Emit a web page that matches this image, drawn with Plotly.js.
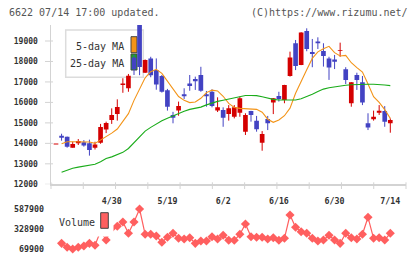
<!DOCTYPE html>
<html>
<head>
<meta charset="utf-8">
<script src="https://cdn.plot.ly/plotly-3.0.1.min.js"></script>
<style>
  html, body { margin: 0; padding: 0; background: #fff; }
  #chart { width: 420px; height: 259px; }
</style>
</head>
<body>
<div id="chart"></div>
<script>
// Daily candles for 6622, one entry per trading session (index 0 .. 60)
const dateTickIndex = [10, 20, 30, 40, 50, 60];
const dateTickLabels = ['4/30', '5/19', '6/2', '6/16', '6/30', '7/14'];

const openPrice = [
  13950, 14280, 13840, 13970, 14110, 13890, 13680, 13950, 14800, 15000,
  15390, 15780, 16920, 17300, 17620, 17730, 18070, 17330, 16880, 16520,
  15790, 15250, 15820, 16300, 16800, 17030, 16570, 16300, 15830, 15760,
  15250, 15710, 15760, 16200, 15380, 15390, 14690, 14460, 14980, 16200,
  16170, 16850, 18200, 17780, 19420, 18610, 18360, 18890, 18270, 17700,
  17990, 18560, 17100, 16980, 17100, 15990, 14770, 15300, 15590, 15060,
  15140
];
const highPrice = [
  13950, 14470, 14330, 14080, 14210, 14160, 14180, 14080, 14950, 15060,
  15710, 16150, 17180, 17390, 18320, 19800, 18100, 18230, 18150, 17340,
  16660, 15540, 16040, 16690, 17340, 17260, 17740, 16560, 16640, 16250,
  15760, 15870, 15870, 16280, 15470, 15590, 15340, 14600, 15340, 16210,
  16520, 16860, 18480, 19050, 19430, 19620, 19100, 19180, 18890, 18230,
  18320, 18920, 17720, 16990, 17450, 17290, 15470, 15600, 15870, 15820,
  15220
];
const lowPrice = [
  13950, 14130, 13790, 13790, 13920, 13840, 13400, 13700, 13980, 14500,
  14950, 15110, 16470, 16520, 17340, 17330, 17440, 17230, 16620, 16480,
  15600, 14980, 15350, 16170, 16570, 16610, 16520, 15790, 15760, 15530,
  14810, 15110, 15220, 15300, 14410, 15060, 14570, 13640, 14650, 15430,
  16040, 15960, 17260, 17580, 17820, 18500, 17720, 18610, 17750, 17100,
  17630, 18230, 16900, 15790, 16610, 15870, 14650, 15110, 15390, 14810,
  14520
];
const closePrice = [
  13950, 14370, 14320, 13790, 14010, 14050, 14000, 13790, 14030, 14680,
  15140, 15430, 16850, 16690, 18200, 19800, 17450, 18150, 17580, 17290,
  16600, 15380, 15600, 16400, 16930, 17150, 17340, 16400, 16520, 15600,
  15630, 15440, 15300, 15500, 14570, 15580, 15100, 14030, 15190, 15990,
  16310, 16120, 17290, 18890, 17830, 19490, 18460, 18980, 18510, 18150,
  18100, 18520, 17620, 15960, 17340, 16980, 14980, 15180, 15500, 15580,
  14980
];

const ma5 = [
  null, 13980, 14080, 14080, 14080, 14080, 14070, 14000, 14160, 14330,
  14500, 14700, 15050, 15450, 16100, 16650, 17200, 17500, 17620, 17420,
  17040, 16630, 16290, 16100, 15990, 16020, 16200, 16480, 16600, 16560,
  16300, 15950, 15750, 15710, 15700, 15660, 15660, 15520, 15180, 15030,
  15140, 15350, 15720, 16450, 17050, 17600, 18150, 18470, 18620, 18740,
  18430, 18270, 18300, 17940, 17700, 17480, 16900, 16280, 16000, 15650,
  15220
];
const ma25 = [
  null, 12590, 12690, 12780, 12840, 12880, 12930, 12980, 13100, 13260,
  13340, 13450, 13560, 13750, 14050, 14320, 14600, 14780, 14950, 15100,
  15230, 15350, 15470, 15570, 15660, 15720, 15770, 15880, 15970, 16050,
  16110, 16170, 16240, 16310, 16340, 16340, 16330, 16280, 16200, 16150,
  16120, 16120, 16120, 16120, 16180, 16280, 16400, 16530, 16650, 16720,
  16770, 16800, 16840, 16860, 16880, 16885, 16885, 16885, 16880, 16850,
  16820
];
const volume = [
  null, 143300, 91900, 69900, 91900, 108700, 143300, 117500, 300000, 186500,
  340000, 363900, 419500, 273200, 419500, 587900, 260300, 260300, 238200, 156700,
  221400, 273200, 208400, 199400, 216200, 143300, 173500, 173500, 229200, 199400,
  247300, 182600, 182600, 260300, 393600, 229200, 221400, 221400, 199400, 216200,
  182600, 208400, 510200, 350900, 294000, 273200, 208400, 173500, 186400, 247300,
  186400, 143300, 273200, 216200, 199400, 260300, 480400, 208400, 216200, 186400,
  273200
];

const priceTicks = [12000, 13000, 14000, 15000, 16000, 17000, 18000, 19000];
const volumeTicks = [69900, 328900, 587900];

const UP = '#4343c3';
const DOWN = '#d40000';
const MONO = 'DejaVu Sans Mono, monospace';

const idx = closePrice.map((_, i) => i);
const isUp = closePrice.map((c, i) => c > openPrice[i]);

// candle bodies as floating bars
const bodyBase = idx.map(i => Math.min(openPrice[i], closePrice[i]));
const bodyHeight = idx.map(i => Math.max(Math.abs(closePrice[i] - openPrice[i]), 45));
const bodyColor = isUp.map(u => (u ? UP : DOWN));

// high-low wicks, one polyline per colour with gaps between sessions
function wicks(up) {
  const xs = [], ys = [];
  idx.forEach(i => {
    if (isUp[i] !== up) return;
    xs.push(i, i, null);
    ys.push(lowPrice[i], highPrice[i], null);
  });
  return { x: xs, y: ys };
}
const upWick = wicks(true);
const downWick = wicks(false);

const traces = [
  { type: 'scatter', mode: 'lines', x: upWick.x, y: upWick.y,
    line: { color: UP, width: 1 }, hoverinfo: 'skip', showlegend: false },
  { type: 'scatter', mode: 'lines', x: downWick.x, y: downWick.y,
    line: { color: DOWN, width: 1 }, hoverinfo: 'skip', showlegend: false },
  { type: 'bar', x: idx, y: bodyHeight, base: bodyBase, width: 0.84,
    marker: { color: bodyColor, line: { width: 0 } }, hoverinfo: 'skip', showlegend: false },
  { type: 'scatter', mode: 'lines', x: idx, y: ma5, name: '5-day MA',
    line: { color: '#f39418', width: 1.1 }, hoverinfo: 'skip', showlegend: false },
  { type: 'scatter', mode: 'lines', x: idx, y: ma25, name: '25-day MA',
    line: { color: '#1aac1a', width: 1.1 }, hoverinfo: 'skip', showlegend: false },
  { type: 'scatter', mode: 'lines+markers', x: idx, y: volume, yaxis: 'y2', name: 'Volume',
    line: { color: '#ff5f5f', width: 1.2 },
    marker: { symbol: 'diamond', size: 7, color: '#ff5f5f' },
    cliponaxis: false, hoverinfo: 'skip', showlegend: false }
];

// plot-area helpers (plot area is 355 x 224 px, top-left at 51,25)
const PX = px => (px - 51) / 355;
const PY = py => (249 - py) / 224;

const shapes = [];
// legend frame and swatches for the moving averages (beneath the candles)
shapes.push({ type: 'rect', xref: 'paper', yref: 'paper', layer: 'below',
  x0: PX(65.7), x1: PX(143.3), y0: PY(77.3), y1: PY(30),
  line: { color: '#dcdcdc', width: 1.5 }, fillcolor: '#ffffff' });
shapes.push({ type: 'rect', xref: 'paper', yref: 'paper', layer: 'below',
  x0: PX(131), x1: PX(137), y0: PY(52.7), y1: PY(36.7),
  line: { color: '#444', width: 1 }, fillcolor: '#f39418' });
shapes.push({ type: 'rect', xref: 'paper', yref: 'paper', layer: 'below',
  x0: PX(131), x1: PX(137), y0: PY(70), y1: PY(54),
  line: { color: '#444', width: 1 }, fillcolor: '#1aac1a' });
// x tick marks across the bottom of the price panel
for (let k = 0; k <= 11; k++) {
  shapes.push({ type: 'line', xref: 'paper', yref: 'paper', layer: 'above',
    x0: k / 11, x1: k / 11, y0: PY(189), y1: PY(182.3),
    line: { color: '#d3d3d3', width: 1 } });
}
// y tick marks crossing the price axis
priceTicks.forEach(v => {
  shapes.push({ type: 'line', xref: 'paper', yref: 'y', layer: 'above',
    x0: PX(45), x1: PX(53), y0: v, y1: v,
    line: { color: '#d3d3d3', width: 1 } });
});
// volume legend box
shapes.push({ type: 'rect', xref: 'paper', yref: 'paper', layer: 'above',
  x0: PX(54), x1: PX(113.5), y0: PY(236.5), y1: PY(207),
  line: { width: 0 }, fillcolor: '#ffffff' });
shapes.push({ type: 'rect', xref: 'paper', yref: 'paper', layer: 'above',
  x0: PX(100.7), x1: PX(108.3), y0: PY(228.3), y1: PY(212.7),
  line: { color: '#444', width: 1 }, fillcolor: '#ff6060' });

const annotations = [
  { text: '6622 07/14 17:00 updated.', xref: 'paper', yref: 'paper',
    x: PX(7), y: PY(12.3), xanchor: 'left', yanchor: 'middle', showarrow: false,
    font: { family: MONO, size: 10, color: '#555' } },
  { text: '(C)https://www.rizumu.net/', xref: 'paper', yref: 'paper',
    x: PX(410), y: PY(12.3), xanchor: 'right', yanchor: 'middle', showarrow: false,
    font: { family: MONO, size: 10, color: '#555' } },
  { text: '5-day MA', xref: 'paper', yref: 'paper',
    x: PX(126), y: PY(46), xanchor: 'right', yanchor: 'middle', showarrow: false,
    font: { family: MONO, size: 10, color: '#333' } },
  { text: '25-day MA', xref: 'paper', yref: 'paper',
    x: PX(126), y: PY(63.3), xanchor: 'right', yanchor: 'middle', showarrow: false,
    font: { family: MONO, size: 10, color: '#333' } },
  { text: 'Volume', xref: 'paper', yref: 'paper',
    x: PX(57), y: PY(222.3), xanchor: 'left', yanchor: 'middle', showarrow: false,
    font: { family: MONO, size: 10, color: '#333' } }
];

const layout = {
  width: 420, height: 259,
  margin: { l: 51, r: 14, t: 25, b: 10, pad: 0 },
  paper_bgcolor: '#ffffff', plot_bgcolor: '#ffffff',
  showlegend: false,
  xaxis: {
    range: [-0.897, 62.818], domain: [0, 1], anchor: 'y',
    showline: true, linecolor: '#d3d3d3', linewidth: 1.5,
    showgrid: false, zeroline: false, ticks: '',
    tickvals: dateTickIndex, ticktext: dateTickLabels,
    ticklabelstandoff: 8,
    tickfont: { family: MONO, size: 8.3, color: '#333', weight: 'bold' },
    fixedrange: true
  },
  yaxis: {
    range: [12000, 19782], domain: [PY(184.3), 1], anchor: 'x',
    showline: true, linecolor: '#d3d3d3', linewidth: 1.5,
    showgrid: false, zeroline: false, ticks: '',
    tickvals: priceTicks, ticktext: priceTicks.map(String),
    ticklabelstandoff: 10,
    tickfont: { family: MONO, size: 8, color: '#333', weight: 'bold' },
    fixedrange: true
  },
  yaxis2: {
    range: [69900, 587900], domain: [0, PY(209)], anchor: 'x',
    showline: false, showgrid: false, zeroline: false, ticks: '',
    tickvals: volumeTicks, ticktext: volumeTicks.map(String),
    ticklabelstandoff: 6,
    tickfont: { family: MONO, size: 8.3, color: '#333', weight: 'bold' },
    fixedrange: true
  },
  shapes: shapes,
  annotations: annotations
};

Plotly.newPlot('chart', traces, layout, { displayModeBar: false, staticPlot: true });
</script>
</body>
</html>
